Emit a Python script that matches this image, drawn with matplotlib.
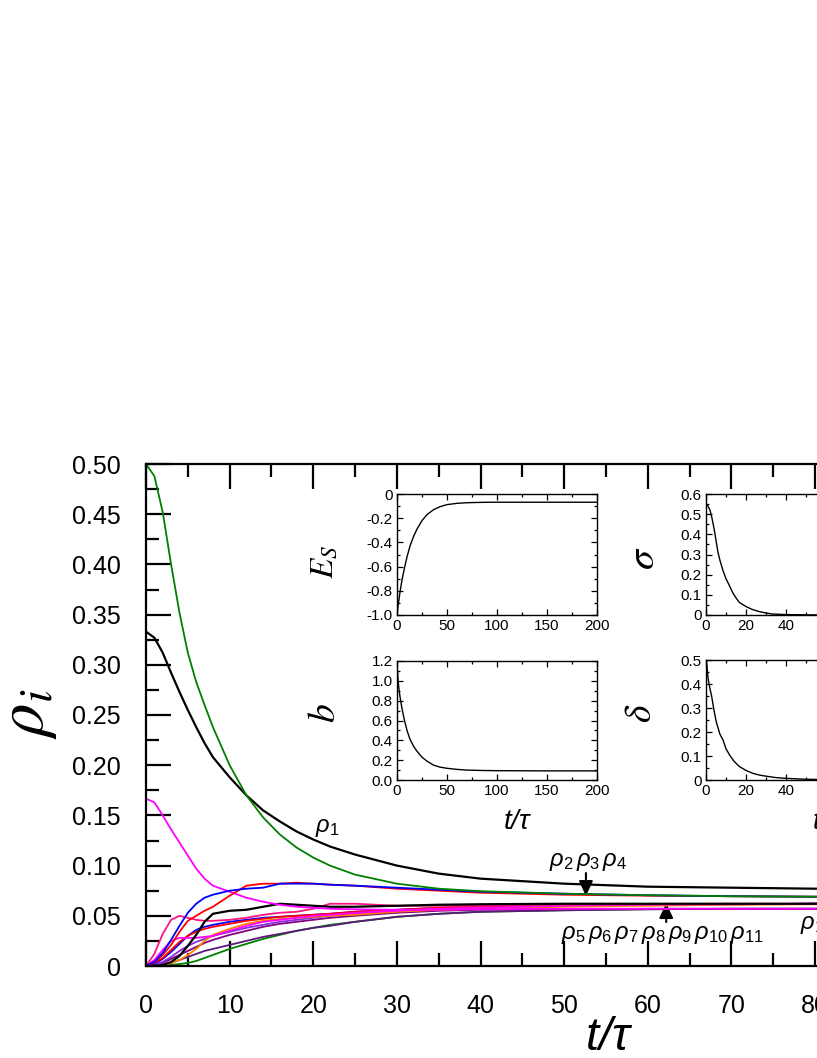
import numpy as np
import matplotlib
matplotlib.use('Agg')
import matplotlib.pyplot as plt
from matplotlib.ticker import MultipleLocator
from matplotlib.patches import FancyArrowPatch

plt.rcParams['font.family'] = ['Liberation Sans', 'DejaVu Sans']
plt.rcParams['axes.unicode_minus'] = False
plt.rcParams['mathtext.fontset'] = 'custom'
plt.rcParams['mathtext.rm'] = 'Liberation Sans'
plt.rcParams['mathtext.it'] = 'Liberation Sans:italic'

# main panel: rho_i vs t/tau
t = [0, 1, 2, 3, 4, 5, 6, 7, 8, 10, 12, 14, 16, 18, 20, 22, 25, 30, 35, 40, 50, 60, 70, 80, 90, 100, 110]

green_a = [.500, .488, .452, .400, .352, .312, .283, .260, .238, .200, .170, .148, .131, .118, .108, .100, .091, .082, .077, .0745, .072, .0705, .0695, .069, .069, .069, .069]
black_a = [.333, .327, .312, .292, .273, .255, .238, .222, .208, .188, .170, .155, .144, .134, .126, .119, .111, .100, .092, .087, .082, .079, .078, .077, .077, .0765, .0765]
magenta_a = [.1667, .163, .150, .136, .123, .110, .097, .087, .080, .074, .068, .064, .061, .059, .058, .057, .0565, .056, .056, .0565, .057, .057, .057, .057, .057, .057, .057]
blue_a = [0, .004, .013, .026, .040, .053, .062, .068, .071, .075, .077, .078, .082, .082, .082, .081, .080, .078, .076, .074, .072, .0705, .0695, .069, .069, .069, .069]
red_a = [0, .004, .011, .021, .034, .045, .050, .055, .059, .070, .080, .082, .082, .083, .082, .081, .080, .077, .075, .073, .071, .070, .0695, .069, .069, .069, .069]

black_b = [0, 0, .001, .004, .010, .020, .031, .044, .052, .055, .056, .059, .062, .061, .060, .059, .059, .060, .061, .0615, .062, .062, .062, .062, .062, .062, .062]
pink_b = [0, .012, .032, .046, .050, .048, .046, .045, .045, .046, .048, .051, .053, .054, .057, .062, .062, .060, .060, .060, .061, .0615, .062, .062, .062, .062, .062]
magenta_b = [0, .006, .016, .025, .028, .028, .028, .029, .030, .035, .040, .044, .046, .048, .050, .051, .053, .055, .057, .058, .060, .061, .0615, .062, .062, .062, .062]
orange_b = [0, 0, .001, .003, .006, .011, .017, .025, .031, .037, .042, .045, .047, .048, .049, .050, .051, .054, .056, .057, .059, .060, .061, .0615, .062, .062, .062]
red_b = [0, .003, .008, .016, .024, .030, .034, .037, .039, .042, .045, .047, .049, .050, .051, .052, .054, .056, .058, .059, .060, .061, .0615, .062, .062, .062, .062]
blue_b = [0, .002, .007, .014, .022, .030, .036, .039, .041, .044, .046, .048, .049, .050, .051, .052, .054, .056, .058, .059, .060, .061, .0615, .062, .062, .062, .062]
violet_b = [0, .001, .004, .009, .015, .020, .024, .027, .030, .034, .038, .041, .044, .046, .048, .050, .052, .055, .057, .058, .060, .061, .0615, .062, .062, .062, .062]

purple_c = [0, .001, .003, .007, .011, .015, .019, .023, .026, .031, .035, .039, .042, .044, .046, .048, .050, .053, .055, .056, .0565, .057, .057, .057, .057, .057, .057]
indigo_c = [0, 0, .001, .003, .006, .009, .012, .015, .017, .021, .025, .029, .032, .035, .038, .040, .044, .049, .052, .054, .0555, .0565, .057, .057, .057, .057, .057]
green_c = [0, 0, 0, .001, .002, .003, .005, .008, .011, .017, .022, .027, .031, .035, .038, .041, .044, .049, .052, .054, .0555, .0565, .057, .057, .057, .057, .057]

# insets
es_t = [0, 1, 2, 3, 5, 7.5, 10, 13, 16.6, 20, 25, 30, 36.5, 43, 50, 60, 70, 85, 100, 150, 200]
es = [-1.0, -0.93, -0.87, -0.81, -0.71, -0.61, -0.52, -0.43, -0.35, -0.29, -0.22, -0.17, -0.13, -0.105, -0.088, -0.077, -0.072, -0.069, -0.068, -0.068, -0.068]
b_t = [0, 0.5, 1, 1.7, 3, 5, 7.5, 10, 13, 16.6, 20, 25, 30, 36.5, 43, 50, 60, 70, 85, 100, 150, 200]
b = [1.00, 1.10, 1.02, 0.94, 0.84, 0.72, 0.60, 0.50, 0.41, 0.34, 0.29, 0.23, 0.19, 0.15, 0.13, 0.118, 0.107, 0.100, 0.096, 0.094, 0.092, 0.092]
sig_t = [0, 1, 2, 3, 4, 5, 6, 7, 8.5, 10, 11, 13.4, 15, 16.7, 20, 23, 26.6, 30, 33, 40, 50, 60, 100]
sig = [0.55, 0.54, 0.52, 0.48, 0.43, 0.37, 0.31, 0.27, 0.22, 0.18, 0.16, 0.11, 0.085, 0.062, 0.042, 0.028, 0.017, 0.010, 0.005, 0.002, 0.001, 0, 0]
dlt_t = [0, 0.3, 1.1, 2, 2.8, 4, 5.2, 7, 8.5, 10, 11.8, 14, 16.7, 20, 23.3, 27, 31.5, 35, 39.7, 50, 60, 100]
dlt = [0.50, 0.49, 0.42, 0.38, 0.35, 0.29, 0.24, 0.19, 0.167, 0.13, 0.104, 0.078, 0.056, 0.040, 0.028, 0.020, 0.014, 0.010, 0.007, 0.003, 0.002, 0.001]

W, H = 817, 1058
fig = plt.figure(figsize=(W / 100, H / 100), dpi=100)

def px(x, y):
    return x / W, 1 - y / H

# main axes (runs past the right edge, like the cropped original)
ax = fig.add_axes([146 / W, 92 / H, 920 / W, 502 / H])
curves = [
    (green_c, '#008000'), (indigo_c, '#5A1A7A'), (purple_c, '#800080'),
    (violet_b, '#8A2BE2'), (blue_b, '#0000FF'), (red_b, '#FF0000'),
    (orange_b, '#FF8000'), (magenta_b, '#FF00FF'), (pink_b, '#FF1480'),
    (black_b, 'black'), (magenta_a, '#FF00FF'), (red_a, '#FF0000'),
    (blue_a, '#0000FF'), (black_a, 'black'), (green_a, '#008000'),
]
for vals, col in curves:
    lw = 1.6 if col == 'black' else 1.3
    ax.plot(t, vals, color=col, lw=lw)

ax.set_xlim(0, 110)
ax.set_ylim(0, 0.5)
ax.xaxis.set_major_locator(MultipleLocator(10))
ax.xaxis.set_minor_locator(MultipleLocator(5))
yt = np.arange(0, 0.501, 0.05)
ax.set_yticks(yt)
ax.set_yticklabels(['0'] + ['%.2f' % v for v in yt[1:]])
ax.yaxis.set_minor_locator(MultipleLocator(0.025))
for s in ax.spines.values():
    s.set_linewidth(1.6)
ax.tick_params(which='both', direction='in', top=True, right=True, width=1.6)
ax.tick_params(which='major', length=18, labelsize=18)
ax.tick_params(which='minor', length=9.5)
ax.tick_params(axis='x', which='major', pad=20)
ax.tick_params(axis='y', which='major', pad=18)

# curve labels and arrows
ax.text(20.2, 0.137, r'$\rho_1$', fontsize=17, ha='left', va='center')
ax.text(52.9, 0.1036, r'$\rho_2\,\rho_3\,\rho_4$', fontsize=17, ha='center', va='center')
ax.text(61.8, 0.031, r'$\rho_5\,\rho_6\,\rho_7\,\rho_8\,\rho_9\,\rho_{10}\,\rho_{11}$', fontsize=17, ha='center', va='center')
ax.text(78.2, 0.041, r'$\rho_{12}\,\rho_{13}\,\rho_{14}\,\rho_{15}$', fontsize=17, ha='left', va='center')
for xa, y0, y1 in [(52.6, 0.0926, 0.0697), (62.2, 0.0438, 0.0627)]:
    ax.add_patch(FancyArrowPatch((xa, y0), (xa, y1), arrowstyle='-|>,head_length=6,head_width=2.8',
                                 color='k', lw=1.5, shrinkA=0, shrinkB=0, mutation_scale=1.5))

fig.text(*px(28, 714), r'$\rho_i$', fontsize=48, rotation=90, ha='center', va='center', math_fontfamily='stix')
fig.text(*px(609, 1038), r't/$\tau$', fontsize=34, ha='center', va='center', style='italic')

# insets
def inset(rect, x, y, xlim, ylim, xmaj, xmin, ymaj, ymin, ylabels):
    a = fig.add_axes(rect)
    a.plot(x, y, color='black', lw=1.0)
    a.set_xlim(*xlim)
    a.set_ylim(*ylim)
    a.xaxis.set_major_locator(MultipleLocator(xmaj))
    a.xaxis.set_minor_locator(MultipleLocator(xmin))
    yt = np.arange(ylim[0], ylim[1] + 1e-9, ymaj)
    a.set_yticks(yt)
    a.set_yticklabels(ylabels)
    a.yaxis.set_minor_locator(MultipleLocator(ymin))
    for s in a.spines.values():
        s.set_linewidth(1.0)
    a.tick_params(which='both', direction='in', top=True, right=True, width=0.9, labelsize=11, pad=3)
    a.tick_params(which='major', length=4)
    a.tick_params(which='minor', length=2.5)
    return a

inset([397 / W, 443 / H, 200 / W, 121 / H], es_t, es, (0, 200), (-1.0, 0), 50, 25, 0.2, 0.1,
      ['-1.0', '-0.8', '-0.6', '-0.4', '-0.2', '0'])
inset([397 / W, 278 / H, 200 / W, 119 / H], b_t, b, (0, 200), (0, 1.2), 50, 25, 0.2, 0.1,
      ['0.0', '0.2', '0.4', '0.6', '0.8', '1.0', '1.2'])
inset([706 / W, 443 / H, 200 / W, 121 / H], sig_t, sig, (0, 100), (0, 0.6), 20, 10, 0.1, 0.05,
      ['0', '0.1', '0.2', '0.3', '0.4', '0.5', '0.6'])
inset([706 / W, 278 / H, 200 / W, 120 / H], dlt_t, dlt, (0, 100), (0, 0.5), 20, 10, 0.1, 0.05,
      ['0', '0.1', '0.2', '0.3', '0.4', '0.5'])

fig.text(*px(324, 562), r'$E_S$', fontsize=24, rotation=90, ha='center', va='center', math_fontfamily='stix')
fig.text(*px(325, 713), r'$b$', fontsize=27, rotation=90, ha='center', va='center', math_fontfamily='stix')
fig.text(*px(643, 558), r'$\sigma$', fontsize=29, rotation=90, ha='center', va='center', math_fontfamily='stix')
fig.text(*px(641, 713), r'$\delta$', fontsize=27, rotation=90, ha='center', va='center', math_fontfamily='stix')
fig.text(*px(518, 822), r't/$\tau$', fontsize=20, ha='center', va='center', style='italic')
fig.text(*px(827, 822), r't/$\tau$', fontsize=20, ha='center', va='center', style='italic')

fig.savefig('out.png', dpi=100)
